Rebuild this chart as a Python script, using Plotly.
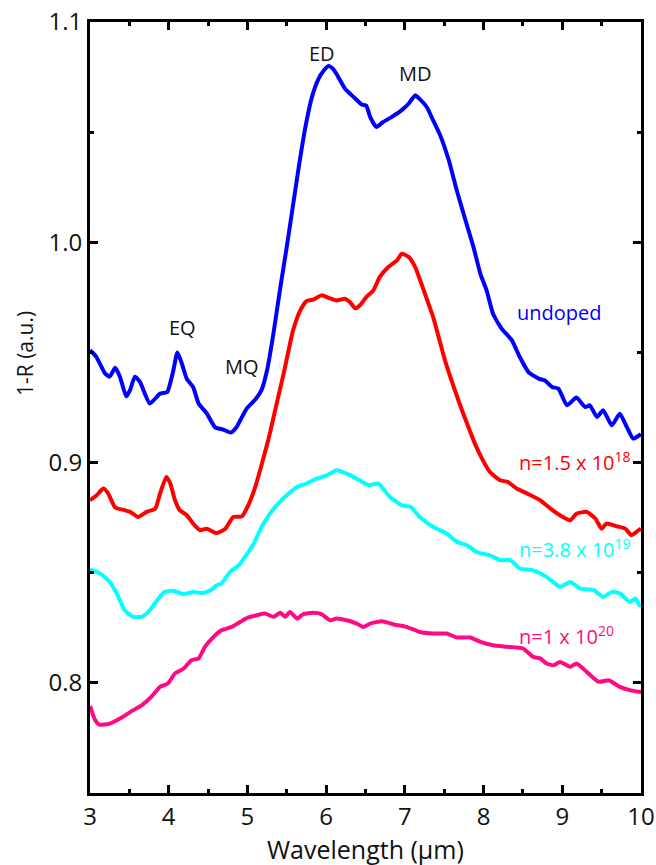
import plotly.graph_objects as go

# ---- data ----
undoped_x = [3.00, 3.08, 3.19, 3.25, 3.32, 3.38, 3.46, 3.51, 3.57, 3.635, 3.76, 3.89, 3.98, 4.06, 4.11, 4.16,
             4.23, 4.31, 4.38, 4.48, 4.59, 4.69, 4.79, 4.86, 4.99, 5.10, 5.18, 5.25, 5.33, 5.42, 5.50, 5.58,
             5.66, 5.74, 5.82, 5.90, 5.97, 6.03, 6.08, 6.13, 6.24, 6.35, 6.45, 6.51, 6.56, 6.64, 6.72, 6.83,
             6.96, 7.05, 7.13, 7.19, 7.28, 7.36, 7.45, 7.56, 7.66, 7.77, 7.87, 7.96, 8.04, 8.12, 8.23, 8.36,
             8.46, 8.57, 8.70, 8.78, 8.87, 8.95, 9.06, 9.18, 9.29, 9.35, 9.44, 9.52, 9.63, 9.73, 9.82, 9.90,
             9.98, 10.0]
undoped_y = [0.951, 0.948, 0.9405, 0.939, 0.943, 0.939, 0.930, 0.933, 0.939, 0.9366, 0.9268, 0.9313, 0.932,
             0.942, 0.950, 0.9457, 0.938, 0.9343, 0.9268, 0.9225, 0.916, 0.915, 0.9136, 0.916, 0.9245, 0.9286,
             0.933, 0.942, 0.9585, 0.980, 0.998, 1.017, 1.036, 1.053, 1.066, 1.074, 1.078, 1.080, 1.079, 1.0765,
             1.0697, 1.0659, 1.0626, 1.062, 1.0568, 1.0523, 1.0545, 1.0568, 1.060, 1.063, 1.0667, 1.065, 1.0613,
             1.0553, 1.0485, 1.037, 1.0235, 1.010, 0.998, 0.9857, 0.978, 0.9676, 0.9608, 0.9555, 0.9479, 0.9411,
             0.9381, 0.9373, 0.9343, 0.9336, 0.926, 0.9295, 0.9252, 0.926, 0.9207, 0.9237, 0.9169, 0.9222,
             0.9161, 0.9109, 0.9124, 0.913]

n18_x = [3.00, 3.085, 3.17, 3.23, 3.32, 3.44, 3.51, 3.61, 3.72, 3.83, 3.89, 3.97, 4.02, 4.08, 4.14, 4.23,
         4.31, 4.40, 4.48, 4.61, 4.72, 4.82, 4.93, 5.01, 5.10, 5.18, 5.27, 5.36, 5.46, 5.58, 5.67, 5.75,
         5.84, 5.94, 6.03, 6.13, 6.24, 6.30, 6.37, 6.43, 6.51, 6.60, 6.68, 6.79, 6.90, 6.96, 7.05, 7.13,
         7.21, 7.30, 7.36, 7.51, 7.68, 7.79, 7.89, 7.98, 8.08, 8.21, 8.31, 8.42, 8.55, 8.72, 8.85, 8.97,
         9.10, 9.18, 9.31, 9.42, 9.50, 9.56, 9.69, 9.80, 9.88, 9.97, 10.0]
n18_y = [0.8829, 0.8852, 0.8882, 0.886, 0.8796, 0.8784, 0.8776, 0.8753, 0.8776, 0.8791, 0.886, 0.8935,
         0.8905, 0.8829, 0.8784, 0.8761, 0.8723, 0.8693, 0.870, 0.868, 0.870, 0.8753, 0.8756, 0.8806, 0.889,
         0.899, 0.911, 0.925, 0.9404, 0.960, 0.969, 0.9733, 0.974, 0.9759, 0.9748, 0.9736, 0.9744, 0.9729,
         0.970, 0.9714, 0.9751, 0.9782, 0.9842, 0.9888, 0.9918, 0.9948, 0.9933, 0.9888, 0.9812, 0.9721,
         0.966, 0.9464, 0.9283, 0.9177, 0.9086, 0.9018, 0.8957, 0.892, 0.8912, 0.8882, 0.886, 0.8829,
         0.8791, 0.8761, 0.8738, 0.8768, 0.8776, 0.8746, 0.870, 0.8723, 0.8711, 0.870, 0.867, 0.8693, 0.870]

n19_x = [3.00, 3.13, 3.25, 3.34, 3.44, 3.55, 3.66, 3.76, 3.87, 3.95, 4.06, 4.19, 4.31, 4.44, 4.55, 4.61,
         4.67, 4.78, 4.89, 4.97, 5.08, 5.18, 5.29, 5.39, 5.50, 5.63, 5.75, 5.88, 6.01, 6.13, 6.26, 6.39,
         6.54, 6.66, 6.81, 6.96, 7.07, 7.19, 7.36, 7.53, 7.66, 7.79, 7.91, 8.08, 8.21, 8.34, 8.46, 8.63,
         8.80, 8.97, 9.10, 9.23, 9.40, 9.52, 9.63, 9.73, 9.86, 9.93, 9.98, 10.0]
n19_y = [0.8515, 0.8496, 0.8458, 0.8406, 0.833, 0.830, 0.830, 0.833, 0.8383, 0.8413, 0.8418, 0.8403,
         0.8413, 0.8408, 0.8424, 0.8443, 0.8451, 0.8504, 0.8534, 0.8572, 0.8632, 0.8708, 0.8769, 0.8814,
         0.8852, 0.8889, 0.8905, 0.8927, 0.8942, 0.8965, 0.895, 0.8927, 0.8897, 0.8905, 0.8844, 0.8806,
         0.8799, 0.8753, 0.8708, 0.8678, 0.864, 0.8625, 0.8594, 0.8579, 0.8557, 0.8557, 0.8519, 0.8511,
         0.8481, 0.8436, 0.8458, 0.8428, 0.8421, 0.839, 0.8413, 0.8406, 0.8367, 0.8383, 0.8353, 0.8355]

n20_x = [3.00, 3.06, 3.12, 3.25, 3.42, 3.55, 3.66, 3.78, 3.89, 3.99, 4.08, 4.19, 4.29, 4.38, 4.46, 4.57,
         4.67, 4.80, 4.91, 5.01, 5.12, 5.22, 5.33, 5.42, 5.48, 5.54, 5.63, 5.71, 5.84, 5.94, 6.05, 6.13,
         6.26, 6.39, 6.47, 6.56, 6.71, 6.85, 7.02, 7.19, 7.36, 7.53, 7.66, 7.83, 7.96, 8.12, 8.29, 8.50,
         8.63, 8.72, 8.80, 8.89, 8.97, 9.10, 9.18, 9.31, 9.46, 9.59, 9.73, 9.86, 9.97, 10.0]
n20_y = [0.7895, 0.7835, 0.781, 0.7815, 0.7846, 0.7876, 0.7899, 0.7937, 0.7982, 0.7997, 0.8043, 0.8065,
         0.8103, 0.8111, 0.8163, 0.8209, 0.8239, 0.8254, 0.8277, 0.8297, 0.8307, 0.8315, 0.830, 0.8318,
         0.830, 0.8322, 0.8292, 0.8312, 0.8318, 0.8312, 0.8284, 0.8292, 0.8284, 0.8269, 0.8254, 0.8269,
         0.828, 0.8266, 0.8254, 0.8231, 0.8224, 0.8224, 0.8206, 0.8206, 0.8186, 0.8171, 0.8164, 0.8156,
         0.8118, 0.8111, 0.8088, 0.808, 0.8095, 0.8073, 0.8088, 0.805, 0.8005, 0.8012, 0.7982, 0.7967,
         0.796, 0.796]

series_names = ["undoped", "n=1.5 x 10<sup>18</sup>", "n=3.8 x 10<sup>19</sup>", "n=1 x 10<sup>20</sup>"]
series_colors = ["#0000ff", "#ff0000", "#00ffff", "#ff0a82"]
series_x = [undoped_x, n18_x, n19_x, n20_x]
series_y = [undoped_y, n18_y, n19_y, n20_y]

# label positions (data coords)
label_pos = [(8.96, 0.9683, "center"), (8.43, 0.9005, "left"), (8.43, 0.8612, "left"), (8.43, 0.8217, "left")]
peak_labels = ["EQ", "MQ", "ED", "MD"]
peak_x = [4.18, 4.93, 5.95, 7.14]
peak_y = [0.9614, 0.9434, 1.0857, 1.0764]

FONT = "Open Sans"
L, R, T, B = 90, 15, 22, 72
W, H = 656, 865
PW, PH = W - L - R, H - T - B

fig = go.Figure()
for xs, ys, c, name in zip(series_x, series_y, series_colors, series_names):
    fig.add_trace(go.Scatter(x=xs, y=ys, mode="lines", name=name,
                             line=dict(color=c, width=4, shape="spline", smoothing=0.5),
                             showlegend=False))

for (lx, ly, anc), name, c in zip(label_pos, series_names, series_colors):
    fig.add_annotation(x=lx, y=ly, xref="x", yref="y", text=name, showarrow=False,
                       xanchor=anc, yanchor="middle", font=dict(family=FONT, size=20, color=c))

for t, px, py in zip(peak_labels, peak_x, peak_y):
    fig.add_annotation(x=px, y=py, xref="x", yref="y", text=t, showarrow=False,
                       xanchor="center", yanchor="middle", font=dict(family=FONT, size=20, color="#111111"))

# axis titles as annotations (pixel positions converted to paper coords)
fig.add_annotation(xref="paper", yref="paper", x=(25 - L) / PW, y=1 - (354 - T) / PH,
                   text="1-R (a.u.)", showarrow=False, textangle=-90,
                   xanchor="center", yanchor="middle",
                   font=dict(family=FONT, size=21, color="#111111"))
fig.add_annotation(xref="paper", yref="paper", x=0.5, y=1 - (849 - T) / PH,
                   text="Wavelength (µm)", showarrow=False,
                   xanchor="center", yanchor="middle",
                   font=dict(family=FONT, size=25, color="#111111"))

fig.update_layout(
    width=W, height=H,
    margin=dict(l=L, r=R, t=T, b=B),
    plot_bgcolor="white", paper_bgcolor="white",
    font=dict(family=FONT, color="#111111"),
)
fig.update_xaxes(range=[3, 10], dtick=1, tick0=3, showline=True, linewidth=3, linecolor="black",
                 mirror="ticks", ticks="inside", ticklen=8, tickwidth=2.5, tickcolor="black",
                 minor=dict(dtick=0.5, ticks="inside", ticklen=4, tickwidth=2.5, tickcolor="black"),
                 showgrid=False, zeroline=False, automargin=False,
                 tickfont=dict(family=FONT, size=24, color="#111111"))
fig.update_yaxes(range=[0.75, 1.1], tickvals=[0.8, 0.9, 1.0, 1.1], ticktext=["0.8", "0.9", "1.0", "1.1"],
                 showline=True, linewidth=3, linecolor="black",
                 mirror="ticks", ticks="inside", ticklen=8, tickwidth=2.5, tickcolor="black",
                 minor=dict(tickvals=[0.85, 0.95, 1.05], ticks="inside", ticklen=4, tickwidth=2.5,
                            tickcolor="black"),
                 showgrid=False, zeroline=False, automargin=False,
                 tickfont=dict(family=FONT, size=24, color="#111111"))

fig.write_html("out.html")
